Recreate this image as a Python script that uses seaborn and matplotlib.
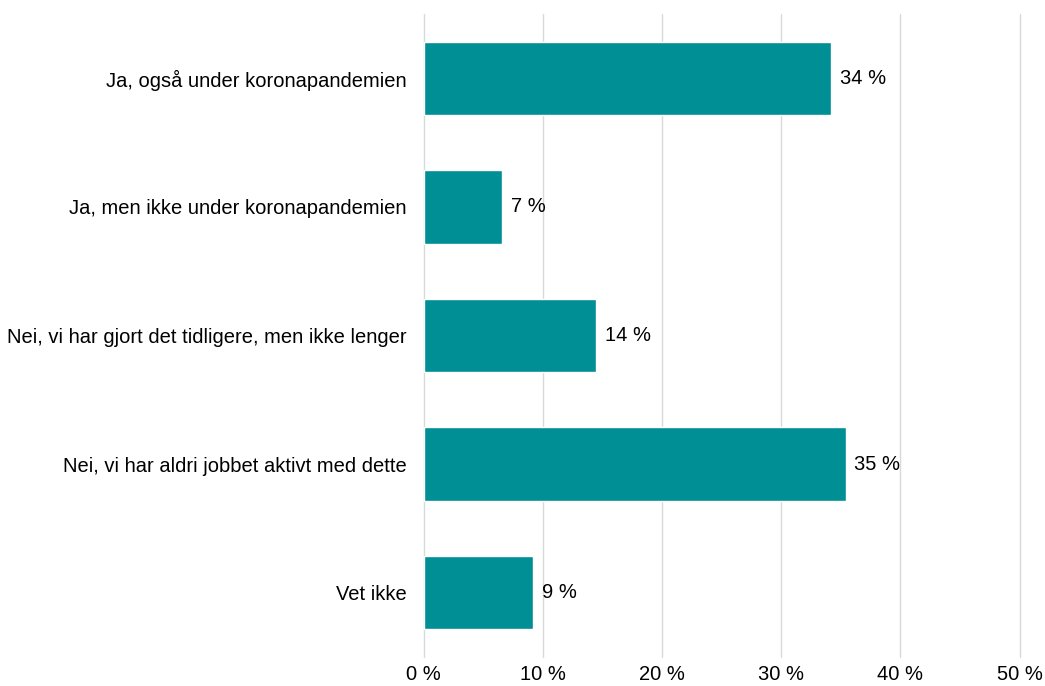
import pandas as pd
import matplotlib.pyplot as plt
import seaborn as sns

categories = [
    'Ja, også under koronapandemien',
    'Ja, men ikke under koronapandemien',
    'Nei, vi har gjort det tidligere, men ikke lenger',
    'Nei, vi har aldri jobbet aktivt med dette',
    'Vet ikke',
]
shares = [34.2, 6.6, 14.5, 35.4, 9.2]
x_ticks = [0, 10, 20, 30, 40, 50]

df = pd.DataFrame({'answer': categories, 'share': shares})

sns.set_theme(style='white')
plt.rcParams['font.family'] = ['Liberation Sans', 'DejaVu Sans']

fig = plt.figure(figsize=(10.45, 6.86), dpi=100)
ax = fig.add_axes([0.4053, 0.0423, 0.5704, 0.9373])

sns.barplot(data=df, x='share', y='answer', orient='h', color='#008F95',
            saturation=1, width=0.57, ax=ax)

# value labels to the right of each bar
for i, v in enumerate(shares):
    ax.text(v + 0.7, i, f'{round(v):d} %', va='center', ha='left', fontsize=14.5, color='#000000')

ax.set_xlim(0, 50)
ax.set_ylim(4.5, -0.5)
ax.set_xticks(x_ticks)
ax.set_xticklabels([f'{t} %' for t in x_ticks], fontsize=14.5)
ax.tick_params(axis='x', length=0, pad=6, colors='#000000')
ax.tick_params(axis='y', length=0, pad=12, labelsize=14.5, colors='#000000')
ax.xaxis.grid(True, color='#d9d9d9', linewidth=1)
for gl in ax.get_xgridlines():
    gl.set_clip_on(False)
ax.set_axisbelow(True)
ax.set_xlabel('')
ax.set_ylabel('')
for s in ax.spines.values():
    s.set_visible(False)

plt.savefig('out.png', dpi=100)
